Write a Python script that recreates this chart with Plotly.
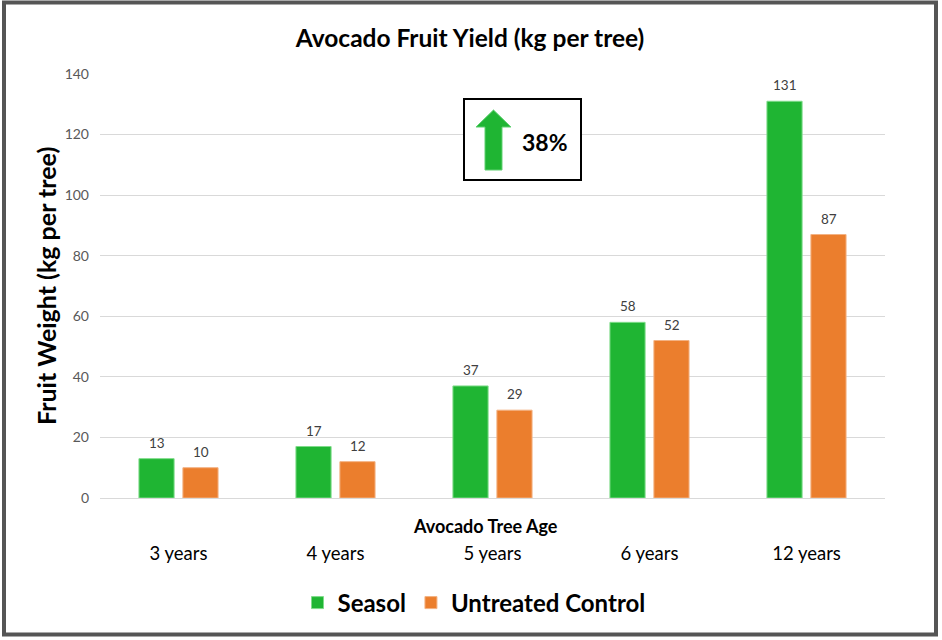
import plotly.graph_objects as go

categories = ["3 years", "4 years", "5 years", "6 years", "12 years"]
seasol = [13, 17, 37, 58, 131]
control = [10, 12, 29, 52, 87]
series_names = ["Seasol", "Untreated Control"]
y_ticks = [0, 20, 40, 60, 80, 100, 120, 140]
increase_label = "38%"

GREEN = "#1FB533"
ORANGE = "#EB7E2D"
FONT = "Lato"

W, H = 942, 640
ML, MR, MT, MB = 100, 57, 74, 142
PW, PH = W - ML - MR, H - MT - MB


def px(x):
    return (x - ML) / PW


def py(y):
    return (H - MB - y) / PH


fig = go.Figure()
fig.add_trace(go.Bar(x=categories, y=seasol, name=series_names[0],
                     marker=dict(color=GREEN, line=dict(color="#7FDC8A", width=1))))
fig.add_trace(go.Bar(x=categories, y=control, name=series_names[1],
                     marker=dict(color=ORANGE, line=dict(color="#F3B283", width=1))))

annotations = []
for vals, shift in ((seasol, -22), (control, 22)):
    for c, v in zip(categories, vals):
        annotations.append(dict(x=c, y=v, xref="x", yref="y", text=str(v), showarrow=False,
                                xanchor="center", yanchor="middle",
                                xshift=shift, yshift=16, font=dict(family=FONT, size=13.5, color="#404040")))

annotations.append(dict(x=px(485), y=py(526), xref="paper", yref="paper", text="<b>Avocado Tree Age</b>",
                        xanchor="center", yanchor="middle",
                        showarrow=False, font=dict(family=FONT, size=18, color="#000000")))
annotations.append(dict(x=px(46), y=py(286), xref="paper", yref="paper", text="<b>Fruit Weight (kg per tree)</b>",
                        xanchor="center", yanchor="middle",
                        showarrow=False, textangle=-90, font=dict(family=FONT, size=25, color="#000000")))
annotations.append(dict(x=px(545), y=py(142), xref="paper", yref="paper", text="<b>" + increase_label + "</b>",
                        xanchor="center", yanchor="middle",
                        showarrow=False, font=dict(family=FONT, size=23, color="#000000")))

# arrow path in paper coords
arrow_pts = [(485, 170), (485, 127), (476, 127), (493.5, 110), (511, 127), (502, 127), (502, 170)]
path = "M " + " L ".join(f"{px(a):.5f},{py(b):.5f}" for a, b in arrow_pts) + " Z"

shapes = [
    dict(type="rect", xref="paper", yref="paper", x0=px(464), x1=px(581), y0=py(99), y1=py(180),
         line=dict(color="#000000", width=2), fillcolor="rgba(255,255,255,1)", layer="above"),
    dict(type="path", xref="paper", yref="paper", path=path, fillcolor=GREEN,
         line=dict(color="#5FD070", width=1), layer="above"),
    dict(type="rect", xref="paper", yref="paper", x0=px(4), x1=px(936), y0=py(2.5), y1=py(634.5),
         line=dict(color="#555555", width=4), layer="above"),
]

fig.update_layout(
    width=W, height=H,
    margin=dict(l=ML, r=MR, t=MT, b=MB),
    paper_bgcolor="white", plot_bgcolor="white",
    title=dict(text="<b>Avocado Fruit Yield (kg per tree)</b>", xref="container", x=470 / W, xanchor="center",
               yref="container", y=1 - 38 / H, yanchor="middle", font=dict(family=FONT, size=24.5, color="#000000")),
    barmode="group", bargap=0.44, bargroupgap=0.2,
    showlegend=True,
    legend=dict(orientation="h", x=px(474), xanchor="center", y=py(603), yanchor="middle",
                font=dict(family=FONT, size=24, color="#000000"), itemwidth=30,
                traceorder="normal"),
    annotations=annotations,
    shapes=shapes,
    xaxis=dict(showgrid=False, showline=False, ticks="", ticklabelstandoff=42,
               tickfont=dict(family=FONT, size=18.5, color="#000000"), fixedrange=True),
    yaxis=dict(range=[0, 140], tickvals=y_ticks, showgrid=True, gridcolor="#D9D9D9", gridwidth=1,
               zeroline=True, zerolinecolor="#D9D9D9", zerolinewidth=1, showline=False,
               ticklabelstandoff=10, tickfont=dict(family=FONT, size=14, color="#595959")),
)
for tr, nm in zip(fig.data, series_names):
    tr.name = "<b>" + nm + "</b>"

fig.write_html("out.html")
